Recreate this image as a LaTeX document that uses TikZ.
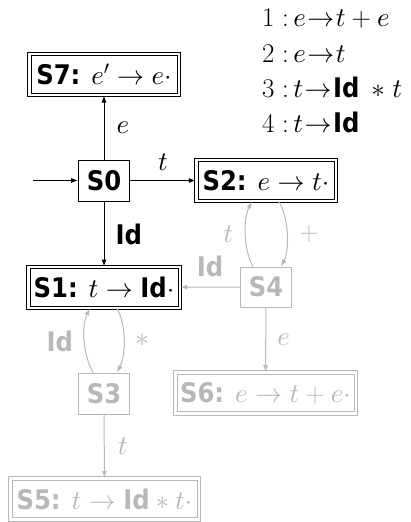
\RequirePackage{fix-cm}
\documentclass[tikz,border=0pt]{standalone}
\usepackage{fontspec}
\newfontfamily\sfb{DejaVu Sans Condensed Bold}
\DeclareFontFamily{OML}{cmmx}{\skewchar\font127 }
\DeclareFontShape{OML}{cmmx}{m}{it}{<->cmmi10}{}
\SetSymbolFont{letters}{normal}{OML}{cmmx}{m}{it}
\DeclareFontFamily{OT1}{cmrx}{\hyphenchar\font45 }
\DeclareFontShape{OT1}{cmrx}{m}{n}{<->cmr10}{}
\SetSymbolFont{operators}{normal}{OT1}{cmrx}{m}{n}
\DeclareFontFamily{OMS}{cmsx}{\skewchar\font48 }
\DeclareFontShape{OMS}{cmsx}{m}{n}{<->cmsy10}{}
\SetSymbolFont{symbols}{normal}{OMS}{cmsx}{m}{n}
\usetikzlibrary{arrows.meta,calc}
\definecolor{lg}{gray}{0.72}
\newcommand{\Idt}{\mbox{\sfb Id}}
\newcommand{\ra}{\mkern1mu{\rightarrow}\mkern1mu}
\begin{document}
\begin{tikzpicture}[x=1pt,y=1pt,
  every node/.style={font=\fontsize{27}{32}\selectfont},
  sbox/.style={draw,line width=1pt,minimum width=51pt,minimum height=40pt,inner sep=0pt},
  dbox/.style={draw,line width=1pt,double,double distance=2.5pt,minimum height=41pt,inner sep=0pt},
  arr/.style={line width=1pt,-{Latex[length=7pt,width=5pt]}},
  gr/.style={draw=lg,text=lg},
  garr/.style={arr,draw=lg},
  lab/.style={inner sep=0pt},
  glab/.style={inner sep=0pt,text=lg}]
\useasboundingbox (0,0) rectangle (411,-522);
% grammar
\node[anchor=base west,inner sep=0pt] (g1) at (262,-27) {$1\;{:}\,e\ra t+e$};
\node[anchor=base west,inner sep=0pt] (g2) at (262,-62) {$2\;{:}\,e\ra t$};
\node[anchor=base west,inner sep=0pt] (g3) at (262,-97) {$3\;{:}\,t\ra\Idt\;\,{*}\;t$};
\node[anchor=base west,inner sep=0pt] (g4) at (262,-132) {$4\;{:}\,t\ra\Idt$};
% states
\node[dbox,minimum width=149.5pt] (S7) at (104,-74.5) {{\sfb S7:} $e'\rightarrow e\cdot$};
\node[sbox,minimum height=41pt] (S0) at (104,-180.5) {\sfb S0};
\node[dbox,minimum width=139.5pt] (S2) at (266,-180.5) {{\sfb S2:} $e\rightarrow t\cdot$};
\node[dbox,minimum width=151.5pt] (S1) at (104,-287.5) {{\sfb S1:} $t\rightarrow\Idt\cdot$};
\node[sbox,gr] (S4) at (266,-287) {\sfb S4};
\node[sbox,gr,minimum height=41pt] (S3) at (104,-393.5) {\sfb S3};
\node[dbox,gr,minimum width=180.5pt] (S6) at (265.5,-393) {{\sfb S6:} $e\rightarrow t+e\cdot$};
\node[dbox,gr,minimum width=188.5pt] (S5) at (104.5,-499) {{\sfb S5:} $t\rightarrow\Idt*t\cdot$};
\coordinate (in) at (33,-180.5);
% black edges
\draw[arr] (in) -- (S0);
\draw[arr] (S0) -- node[lab,midway,right=12pt]{$e$} (S7);
\draw[arr] (S0) -- node[lab,midway,above=10pt]{$t$} (S2);
\draw[arr] (S0) -- node[lab,midway,right=11pt]{\sfb Id} (S1);
% gray edges
\draw[garr] (S4) -- node[glab,midway,above=10pt]{\sfb Id} (S1);
\draw[garr] (S4) -- node[glab,midway,right=11pt]{$e$} (S6);
\draw[garr] (S3) -- node[glab,midway,right=13pt]{$t$} (S5);
\draw[garr] ($(S4.north)+(-13,0)$) .. controls +(120:19) and +(243:20) .. node[glab,midway,left=12pt]{$t$} ($(S2.south)+(-14,0)$);
\draw[garr] ($(S2.south)+(13,0)$) .. controls +(-60:20) and +(63:19) .. node[glab,midway,right=12pt]{$+$} ($(S4.north)+(15,0)$);
\draw[garr] ($(S3.north)+(-11,0)$) .. controls +(120:19) and +(243:20) .. node[glab,midway,left=11pt]{\sfb Id} ($(S1.south)+(-14,0)$);
\draw[garr] ($(S1.south)+(13,0)$) .. controls +(-60:20) and +(63:19) .. node[glab,midway,right=11pt]{$*$} ($(S3.north)+(13,0)$);
\end{tikzpicture}
\end{document}
